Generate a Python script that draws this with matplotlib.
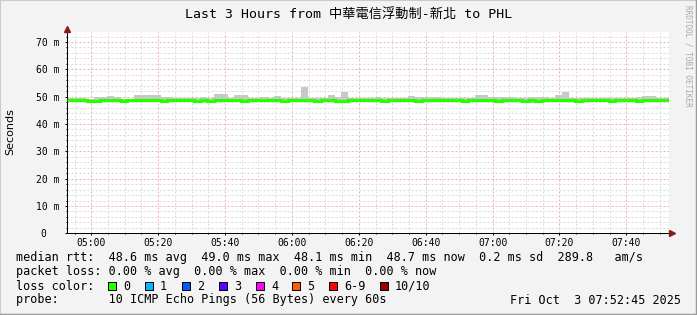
import matplotlib
matplotlib.use("Agg")
import matplotlib.pyplot as plt
import matplotlib.transforms as mtransforms
from matplotlib.lines import Line2D
from matplotlib.patches import Rectangle
import numpy as np

W, H = 697, 315
MONO = ['DejaVu Sans Mono', 'Noto Sans CJK TC']

TITLE = "Last 3 Hours from 中華電信浮動制-新北 to PHL"
START_MIN = 4 * 60 + 52.75      # 04:52:45
SPAN_MIN = 180
BIN_MIN = 2

tick_minutes = [300, 320, 340, 360, 380, 400, 420, 440, 460]
tick_labels = ["05:00", "05:20", "05:40", "06:00", "06:20", "06:40", "07:00", "07:20", "07:40"]
ytick_values = [0, 10, 20, 30, 40, 50, 60, 70]
ytick_labels = ["0  ", "10 m", "20 m", "30 m", "40 m", "50 m", "60 m", "70 m"]

# median rtt per 2 minute bin (ms)
median_ms = [48.6, 48.6, 48.6, 48.5, 48.5, 48.6, 48.6, 48.6, 48.5, 48.6,
             48.6, 48.6, 48.6, 48.6, 48.5, 48.6, 48.6, 48.6, 48.6, 48.5,
             48.6, 48.5, 48.6, 48.6, 48.6, 48.6, 48.5, 48.6, 48.6, 48.6,
             48.6, 48.6, 48.5, 48.6, 48.6, 48.7, 48.6, 48.5, 48.6, 48.6,
             48.5, 48.5, 48.6, 48.6, 48.6, 48.6, 48.6, 48.5, 48.6, 48.6,
             48.6, 48.6, 48.5, 48.6, 48.6, 48.6, 48.6, 48.6, 48.6, 48.5,
             48.6, 48.6, 48.6, 48.6, 48.5, 48.6, 48.6, 48.6, 48.5, 48.6,
             48.5, 48.6, 48.6, 48.6, 48.6, 48.6, 48.5, 48.6, 48.6, 48.6,
             48.6, 48.5, 48.6, 48.6, 48.6, 48.5, 48.6, 48.6, 48.6, 48.6]

# upper edge of the smoke (slowest ping) per bin (ms)
smoke_hi_ms = [49.6, 49.6, 49.6, 49.3, 50.0, 50.0, 50.2, 50.0, 49.3, 49.3,
               50.5, 50.5, 50.5, 50.5, 50.0, 50.0, 49.4, 49.4, 49.4, 49.4,
               49.8, 49.4, 51.0, 51.0, 49.4, 50.6, 50.6, 49.4, 49.4, 50.0,
               49.4, 50.3, 49.4, 49.6, 49.4, 53.6, 49.5, 49.6, 49.6, 50.6,
               49.8, 51.7, 49.4, 49.6, 49.6, 49.4, 50.0, 49.4, 49.4, 49.6,
               49.6, 50.3, 50.0, 50.0, 50.0, 50.0, 49.4, 49.4, 49.4, 49.4,
               49.4, 50.6, 50.6, 49.8, 49.8, 50.0, 50.0, 49.4, 49.6, 50.0,
               50.0, 50.0, 49.4, 50.6, 51.8, 49.4, 49.4, 49.4, 49.4, 49.6,
               49.6, 49.4, 49.4, 49.4, 49.4, 50.0, 50.3, 50.3, 49.6, 49.6]

# lower edge of the smoke (fastest ping) per bin (ms)
smoke_lo_ms = [48.0, 48.0, 48.0, 48.0, 48.0, 48.0, 47.9, 48.0, 48.0, 48.0,
               48.0, 48.0, 48.0, 48.0, 48.0, 48.0, 48.0, 48.0, 48.0, 48.0,
               48.0, 48.0, 48.0, 48.0, 48.0, 48.0, 48.0, 48.0, 48.0, 48.0,
               48.0, 48.0, 48.0, 48.0, 48.0, 48.0, 48.0, 48.0, 48.0, 48.0,
               48.0, 47.9, 48.0, 48.0, 48.0, 48.0, 48.0, 48.0, 48.0, 48.0,
               48.0, 47.9, 48.0, 48.0, 48.0, 48.0, 48.0, 48.0, 48.0, 48.0,
               48.0, 48.0, 48.0, 48.0, 48.0, 48.0, 48.0, 48.0, 48.0, 47.7,
               47.8, 48.0, 48.0, 48.0, 48.0, 48.0, 48.0, 48.0, 48.0, 48.0,
               48.0, 48.0, 48.0, 48.0, 48.0, 48.0, 47.9, 48.0, 48.0, 48.0]

RTT_LINE = "median rtt:  48.6 ms avg  49.0 ms max  48.1 ms min  48.7 ms now  0.2 ms sd  289.8   am/s"
LOSS_LINE = "packet loss: 0.00 % avg  0.00 % max  0.00 % min  0.00 % now"
PROBE_LINE = "probe:       10 ICMP Echo Pings (56 Bytes) every 60s"
STAMP_TEXT = "Fri Oct  3 07:52:45 2025"
loss_color_labels = ["0", "1", "2", "3", "4", "5", "6-9", "10/10"]
loss_colors = ["#26ff00", "#00b8ff", "#0059ff", "#5e00ff", "#ff00fe", "#ff5e00", "#ff0000", "#a10000"]
loss_box_x = [108, 145, 182, 219, 256, 292, 329, 380]

BG = "#f3f3f3"
AXIS = "#000000"
ARROW = "#8b1a1a"
GREEN = "#26ff00"
SMOKE = "#c8c8c8"
LEGEND_SIZE = 8.5

# plot area in pixels
AX_L, AX_R, AX_T, AX_B = 67, 669, 32, 233.3


def fx(x):
    return x / W


def fy(y):
    return 1 - y / H


def main():
    fig = plt.figure(figsize=(W / 100, H / 100), dpi=100, facecolor=BG)
    ax = fig.add_axes([fx(AX_L), fy(AX_B), fx(AX_R - AX_L), (AX_B - AX_T) / H])
    ax.set_facecolor("white")

    x_start = START_MIN
    centers = x_start + BIN_MIN * (np.arange(len(median_ms)) + 0.5)
    lo = np.array(smoke_lo_ms)
    hi = np.array(smoke_hi_ms)
    ax.bar(centers, hi - lo, bottom=lo, width=BIN_MIN, color=SMOKE, linewidth=0, zorder=2)

    edges = x_start + BIN_MIN * np.arange(len(median_ms) + 1)
    med = np.append(median_ms, median_ms[-1])
    ax.step(edges, med, where="post", color=GREEN, linewidth=2.3, zorder=3,
            solid_capstyle="butt", solid_joinstyle="miter")

    ax.set_xlim(x_start, x_start + SPAN_MIN)
    ax.set_ylim(0, 73.65)

    ax.set_xticks(tick_minutes)
    ax.set_xticklabels(tick_labels, fontfamily=MONO, fontsize=7)
    ax.set_xticks(np.arange(295, 475, 5), minor=True)
    ax.set_yticks(ytick_values)
    ax.set_yticklabels(ytick_labels, fontfamily=MONO, fontsize=7)
    ax.set_yticks(np.arange(0, 74, 2), minor=True)

    ax.tick_params(which="major", length=1.5, width=0.72, color=AXIS, pad=2.2)
    ax.tick_params(axis="y", which="major", pad=4.2)
    ax.tick_params(which="minor", length=0.8, width=0.72, color=AXIS)

    ax.set_axisbelow(True)
    ax.grid(which="minor", color="#dadada", linewidth=0.72, linestyle=(0, (2, 2)))
    ax.grid(which="major", color="#eeb0b0", linewidth=0.72, linestyle=(0, (2, 2)))

    for side in ("top", "right"):
        ax.spines[side].set_visible(False)
    for side in ("left", "bottom"):
        ax.spines[side].set_color(AXIS)
        ax.spines[side].set_linewidth(0.72)

    # axis arrows
    up = mtransforms.offset_copy(ax.transAxes, fig=fig, x=0, y=2.2, units="points")
    ax.plot([0], [1], transform=up, marker="^", markersize=4.5, color=ARROW,
            clip_on=False, zorder=5)
    right = mtransforms.offset_copy(ax.transAxes, fig=fig, x=2.0, y=0, units="points")
    ax.plot([1], [0], transform=right, marker=">", markersize=4.5, color=ARROW,
            clip_on=False, zorder=5)

    fig.text(fx(10.5), fy(132), "Seconds", rotation=90, ha="center", va="center",
             fontsize=8, family="DejaVu Sans")
    fig.text(0.5, fy(15), TITLE, ha="center", va="center", fontsize=9.5, family=MONO)
    fig.text(fx(688), fy(5), "RRDTOOL / TOBI OETIKER", rotation=270, ha="center", va="top",
             fontsize=5.5, family=MONO, color="#a8a8a8")

    # legend rows
    fig.text(fx(16), fy(258), RTT_LINE, ha="left", va="center", fontsize=LEGEND_SIZE, family=MONO)
    fig.text(fx(16), fy(272), LOSS_LINE, ha="left", va="center", fontsize=LEGEND_SIZE, family=MONO)
    fig.text(fx(16), fy(286), "loss color:", ha="left", va="center", fontsize=LEGEND_SIZE, family=MONO)
    for label, color, x in zip(loss_color_labels, loss_colors, loss_box_x):
        fig.patches.append(Rectangle((fx(x), fy(290)), 8 / W, 8 / H, transform=fig.transFigure,
                                     facecolor=color, edgecolor="black", linewidth=0.72))
        fig.text(fx(x + 15), fy(286), label, ha="left", va="center", fontsize=LEGEND_SIZE, family=MONO)
    fig.text(fx(16), fy(300), PROBE_LINE, ha="left", va="center", fontsize=LEGEND_SIZE, family=MONO)
    fig.text(fx(681), fy(300), STAMP_TEXT, ha="right", va="center", fontsize=LEGEND_SIZE, family=MONO)

    # 3d frame round the image
    fig.lines.append(Line2D([0, 0, 1], [0, 1, 1], transform=fig.transFigure,
                            color="#cbcbcb", linewidth=1.5))
    fig.lines.append(Line2D([0, 1, 1], [0, 0, 1], transform=fig.transFigure,
                            color="#9a9a9a", linewidth=2.5))

    fig.savefig("out.png", dpi=100, facecolor=BG)


if __name__ == "__main__":
    main()
